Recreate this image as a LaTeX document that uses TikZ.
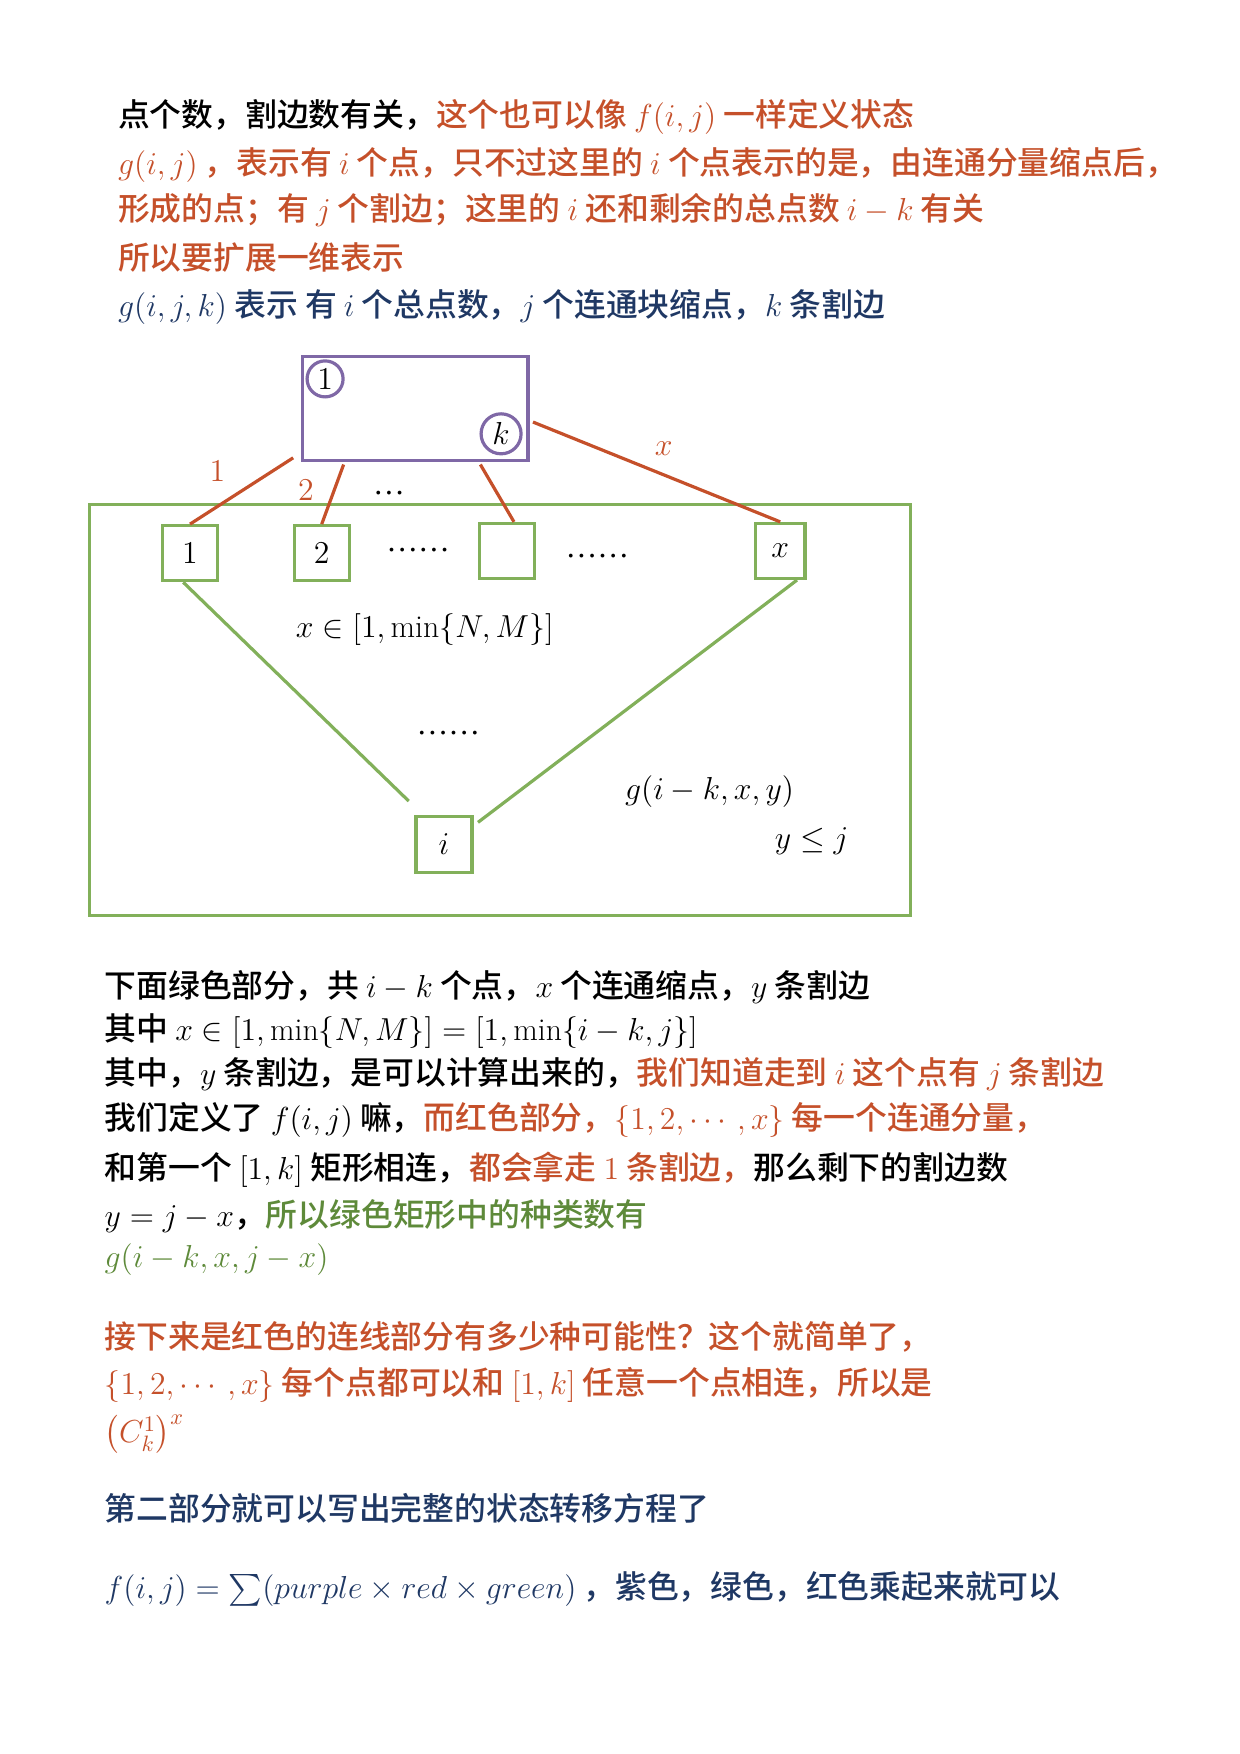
\documentclass[tikz,border=0pt]{standalone}
\usepackage{fix-cm}
\usepackage{amsmath}
\usepackage{amssymb}
\usepackage{fontspec}
\newfontfamily\cjk{Noto Sans CJK SC}[BoldFont={Noto Sans CJK SC Medium}]
\newfontfamily\lat{Liberation Serif}
\usetikzlibrary{calc, positioning, shapes.geometric}
\definecolor{redtx}{HTML}{C5502A}
\definecolor{navytx}{HTML}{1F3864}
\definecolor{greentx}{HTML}{5E8A3A}
\definecolor{greenln}{HTML}{82B05A}
\definecolor{purpleln}{HTML}{7F68A6}
\tikzset{
	txt/.style={anchor=base west, inner sep=0pt, font=\cjk\bfseries\fontsize{15.9}{18}\selectfont},
	lbl/.style={inner sep=0pt, font=\fontsize{15.9}{18}\selectfont},
	sbox/.style={draw=greenln, line width=1.6pt, minimum width=27.5pt, minimum height=27.5pt, inner sep=0pt, font=\fontsize{15.9}{18}\selectfont},
	pcirc/.style={circle, draw=purpleln, line width=1.6pt, inner sep=0pt, font=\fontsize{15.9}{18}\selectfont},
	redge/.style={draw=redtx, line width=1.6pt},
	gedge/.style={draw=greenln, line width=1.6pt}
}

\begin{document}
\begin{tikzpicture}[x=0.5605pt, y=-0.5605pt]
	\useasboundingbox (0,0) rectangle (1105.3,1564.7);

	% text above the picture %
	\node[txt] (l1) at (105,113) {点个数，割边数有关，{\color{redtx}这个也可以像 $f(i,j)$ 一样定义状态}};
	\node[txt, text=redtx] (l2) at (105,156) {$g(i,j)$ ，表示有 $i$ 个点，只不过这里的 $i$ 个点表示的是，由连通分量缩点后，};
	\node[txt, text=redtx] (l3) at (105,197) {形成的点；有 $j$ 个割边；这里的 $i$ 还和剩余的总点数 $i-k$ 有关};
	\node[txt, text=redtx] (l4) at (105,240) {所以要扩展一维表示};
	\node[txt, text=navytx] (l5) at (105,282) {$g(i,j,k)$ 表示 有 $i$ 个总点数，$j$ 个连通块缩点，$k$ 条割边};

	% nodes - for the picture %
	\node[draw=greenln, line width=1.6pt, minimum width=410.3pt, minimum height=205.7pt] (green) at (446,633.5) {};
	\node[draw=purpleln, line width=1.6pt, minimum width=112.7pt, minimum height=52.1pt] (purple) at (370.5,364.5) {};
	\node[pcirc, minimum size=18pt] (c1) at (290,338) {$1$};
	\node[pcirc, minimum size=20pt] (ck) at (447,387) {$k$};
	\node[sbox] (b1) at (169.5,493.5) {$1$};
	\node[sbox] (b2) at (287,493.5) {$2$};
	\node[sbox] (b3) at (452.5,491.5) {};
	\node[sbox, minimum width=24.7pt] (bx) at (696,491.5) {$x$};
	\node[sbox, minimum width=28pt, minimum height=28pt] (bi) at (396,753) {$i$};

	\node[lbl, text=redtx] (e1) at (194,420) {$1$};
	\node[lbl, text=redtx] (e2) at (273,437) {$2$};
	\node[lbl, text=redtx] (ex) at (592,400) {$x$};
	\node[lbl, font=\lat\fontsize{15.9}{18}\selectfont] (d0) at (347,440) {…};
	\node[lbl, font=\lat\fontsize{15.9}{18}\selectfont] (d1) at (373,491) {……};
	\node[lbl, font=\lat\fontsize{15.9}{18}\selectfont] (d2) at (533,496) {……};
	\node[lbl, font=\lat\fontsize{15.9}{18}\selectfont] (d3) at (400,654) {……};
	\node[lbl] (range) at (379,562) {$x\in[1,\min\{N,M\}]$};
	\node[lbl] (gsub) at (633,706) {$g(i-k,x,y)$};
	\node[lbl] (ylej) at (724,750) {$y\le j$};

	% edges %
	\draw[redge] ($(purple.south west)+(-7,-4)$) -- (b1.north);
	\draw[redge] ($(purple.south west)+(38,2)$) -- (b2.north);
	\draw[redge] ($(purple.south west)+(160,2)$) -- ($(b3.north)+(6,0)$);
	\draw[redge] ($(purple.east)+(3,12)$) -- (bx.north);
	\draw[gedge] ($(b1.south)+(-6,0)$) -- ($(bi.north west)+(-5,-12)$);
	\draw[gedge] ($(bx.south)+(15,0)$) -- ($(bi.north east)+(4,7)$);

	% text below the picture %
	\node[txt] (m1) at (93,890) {下面绿色部分，共 $i-k$ 个点，$x$ 个连通缩点，$y$ 条割边};
	\node[txt] (m2) at (93,928) {其中 $x\in[1,\min\{N,M\}]=[1,\min\{i-k,j\}]$};
	\node[txt] (m3) at (93,967) {其中，$y$ 条割边，是可以计算出来的，{\color{redtx}我们知道走到 $i$ 这个点有 $j$ 条割边}};
	\node[txt] (m4) at (93,1008) {我们定义了 $f(i,j)$ 嘛，{\color{redtx}而红色部分，$\{1,2,\cdots,x\}$ 每一个连通分量，}};
	\node[txt] (m5) at (93,1052) {和第一个 $[1,k]$ 矩形相连，{\color{redtx}都会拿走 $1$ 条割边，}那么剩下的割边数};
	\node[txt] (m6) at (93,1094) {$y=j-x$，{\color{greentx}所以绿色矩形中的种类数有}};
	\node[txt, text=greentx] (m7) at (93,1131) {$g(i-k,x,j-x)$};
	\node[txt, text=redtx] (m8) at (93,1203) {接下来是红色的连线部分有多少种可能性？这个就简单了，};
	\node[txt, text=redtx] (m9) at (93,1244) {$\{1,2,\cdots,x\}$ 每个点都可以和 $[1,k]$ 任意一个点相连，所以是};
	\node[txt, text=redtx] (m10) at (93,1287) {$\left(C_k^1\right)^x$};
	\node[txt, text=navytx] (m11) at (93,1356) {第二部分就可以写出完整的状态转移方程了};
	\node[txt, text=navytx] (m12) at (93,1426) {$f(i,j)=\sum(purple\times red\times green)$ ，紫色，绿色，红色乘起来就可以};

\end{tikzpicture}
\end{document}
